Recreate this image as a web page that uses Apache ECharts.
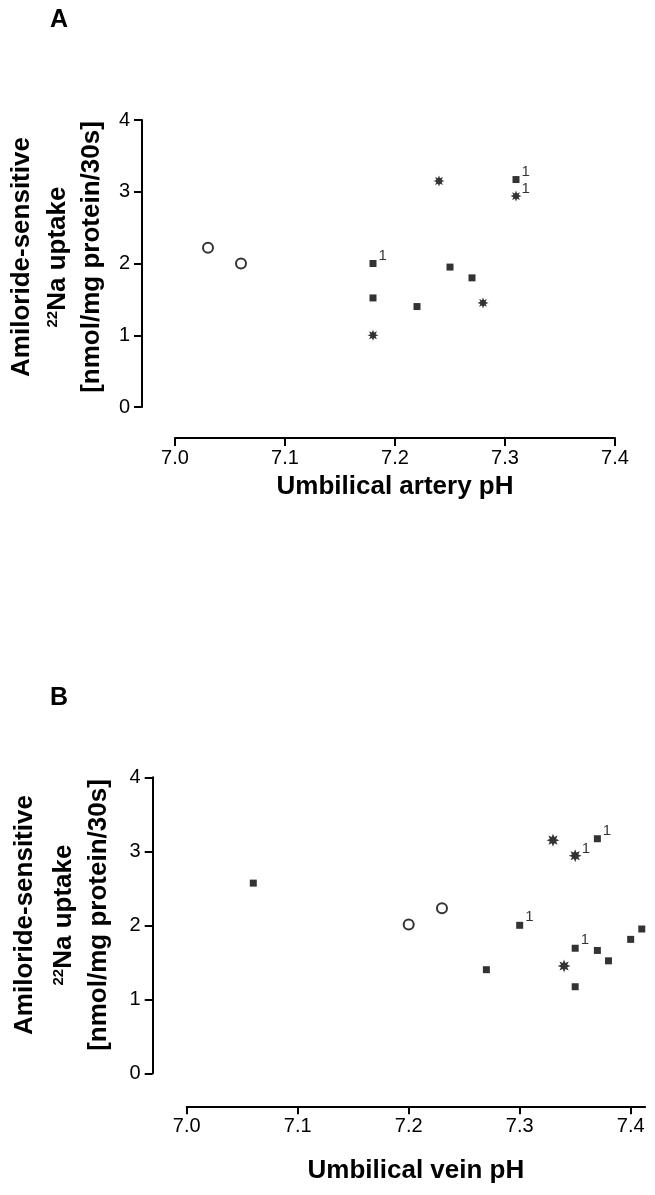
<!DOCTYPE html>
<html>
<head>
<meta charset="utf-8">
<script src="https://cdn.jsdelivr.net/npm/echarts@6/dist/echarts.min.js"></script>
<style>
  html, body { margin: 0; padding: 0; background: #fff; }
  #chart { width: 655px; height: 1195px; }
</style>
</head>
<body>
<div id="chart"></div>
<script>
// ---------- data ----------
// Panel A: umbilical artery pH
const artSquareX = [7.18, 7.18, 7.22, 7.25, 7.27, 7.31];
const artSquareY = [2.00, 1.52, 1.40, 1.95, 1.80, 3.17];
const artSquareNote = ['1', '', '', '', '', '1'];
const artStarX = [7.18, 7.24, 7.28, 7.31];
const artStarY = [1.00, 3.15, 1.45, 2.94];
const artStarNote = ['', '', '', '1'];
const artCircleX = [7.03, 7.06];
const artCircleY = [2.22, 2.00];

// Panel B: umbilical vein pH
const veinSquareX = [7.06, 7.27, 7.30, 7.35, 7.35, 7.37, 7.37, 7.38, 7.40, 7.41];
const veinSquareY = [2.57, 1.40, 2.00, 1.69, 1.17, 3.17, 1.66, 1.52, 1.81, 1.95];
const veinSquareNote = ['', '', '1', '1', '', '1', '', '', '', ''];
const veinStarX = [7.33, 7.35, 7.34];
const veinStarY = [3.15, 2.94, 1.45];
const veinStarNote = ['', '1', ''];
const veinCircleX = [7.20, 7.23];
const veinCircleY = [2.01, 2.23];

// tick values
const xTickValues = [7.0, 7.1, 7.2, 7.3, 7.4];
const yTickValues = [0, 1, 2, 3, 4];

// ---------- helpers ----------
const FONT = "'Liberation Sans', Arial, Helvetica, sans-serif";
function pairs(xs, ys) { return xs.map((x, i) => [x, ys[i]]); }

// asterisk-like 8-point star symbol
function starPath() {
  const n = 8, R = 10, r = 5.2;
  let d = '';
  for (let i = 0; i < n * 2; i++) {
    const rad = (i % 2 === 0) ? R : r;
    const a = Math.PI * i / n - Math.PI / 2;
    const px = (rad * Math.cos(a)).toFixed(3);
    const py = (rad * Math.sin(a)).toFixed(3);
    d += (i === 0 ? 'M' : 'L') + px + ' ' + py + ' ';
  }
  return 'path://' + d + 'Z';
}
const STAR = starPath();

function noteLabel(notes, offset) {
  return {
    show: true,
    formatter: p => notes[p.dataIndex],
    position: 'right',
    offset: offset,
    fontSize: 15,
    color: '#000',
    fontFamily: FONT
  };
}

function makeXAxis(gridIndex, max, offset, name, nameGap) {
  return {
    type: 'value', gridIndex, min: 7.0, max: max, interval: 0.1,
    position: 'bottom', offset: offset,
    name: name, nameLocation: 'middle', nameGap: nameGap,
    nameTextStyle: { fontSize: 26, fontWeight: 'bold', color: '#000', fontFamily: FONT },
    axisLine: { show: true, onZero: false, lineStyle: { color: '#000', width: 2 } },
    axisTick: { show: true, inside: false, length: 8, lineStyle: { color: '#000', width: 2 }, customValues: xTickValues },
    axisLabel: { fontSize: 20, color: '#000', margin: 10, fontFamily: FONT, customValues: xTickValues,
                 formatter: v => Number(v).toFixed(1) },
    splitLine: { show: false }
  };
}
function makeYAxis(gridIndex, offset) {
  return {
    type: 'value', gridIndex, min: 0, max: 4, interval: 1,
    position: 'left', offset: offset,
    axisLine: { show: true, onZero: false, lineStyle: { color: '#000', width: 2 } },
    axisTick: { show: true, inside: false, length: 8, lineStyle: { color: '#000', width: 2 }, customValues: yTickValues },
    axisLabel: { fontSize: 20, color: '#000', margin: 12, fontFamily: FONT, customValues: yTickValues },
    splitLine: { show: false }
  };
}

function squares(xi, data, notes) {
  return { type: 'scatter', xAxisIndex: xi, yAxisIndex: xi, data, symbol: 'rect', symbolSize: 7,
           itemStyle: { color: '#000' }, label: noteLabel(notes, [-3, -8]), silent: true, z: 3 };
}
function stars(xi, data, notes, size) {
  return { type: 'scatter', xAxisIndex: xi, yAxisIndex: xi, data, symbol: STAR, symbolSize: size,
           itemStyle: { color: '#000' }, label: noteLabel(notes, [-5, -7]), silent: true, z: 3 };
}
function circles(xi, data) {
  return { type: 'scatter', xAxisIndex: xi, yAxisIndex: xi, data, symbol: 'circle', symbolSize: 10,
           itemStyle: { color: '#fff', borderColor: '#000', borderWidth: 2 }, silent: true, z: 3 };
}

function yTitle(cx, cy) {
  const base = { fontSize: 26, fontWeight: 'bold', fontFamily: FONT, fill: '#000' };
  return [
    { type: 'text', x: cx[0], y: cy, rotation: Math.PI / 2,
      style: Object.assign({ text: 'Amiloride-sensitive', textAlign: 'center', textVerticalAlign: 'middle' }, base) },
    { type: 'text', x: cx[1], y: cy, rotation: Math.PI / 2,
      style: { text: '{s|22}{n|Na uptake}', textAlign: 'center', textVerticalAlign: 'middle', fill: '#000',
               rich: { s: { fontSize: 15, fontWeight: 'bold', fontFamily: FONT, fill: '#000', verticalAlign: 'top' },
                       n: { fontSize: 26, fontWeight: 'bold', fontFamily: FONT, fill: '#000' } } } },
    { type: 'text', x: cx[2], y: cy, rotation: Math.PI / 2,
      style: Object.assign({ text: '[nmol/mg protein/30s]', textAlign: 'center', textVerticalAlign: 'middle' }, base) }
  ];
}

const chart = echarts.init(document.getElementById('chart'), null, { renderer: 'canvas' });
chart.setOption({
  backgroundColor: '#fff',
  animation: false,
  grid: [
    { left: 175, top: 120, width: 440, height: 287, containLabel: false },
    { left: 186.7, top: 777.3, width: 458.4, height: 296, containLabel: false }
  ],
  xAxis: [
    makeXAxis(0, 7.4, 31, 'Umbilical artery pH', 36),
    makeXAxis(1, 7.413, 33, 'Umbilical vein pH', 52)
  ],
  yAxis: [
    makeYAxis(0, 33),
    makeYAxis(1, 34)
  ],
  series: [
    circles(0, pairs(artCircleX, artCircleY)),
    squares(0, pairs(artSquareX, artSquareY), artSquareNote),
    stars(0, pairs(artStarX, artStarY), artStarNote, 11),
    circles(1, pairs(veinCircleX, veinCircleY)),
    squares(1, pairs(veinSquareX, veinSquareY), veinSquareNote),
    stars(1, pairs(veinStarX, veinStarY), veinStarNote, 13)
  ],
  graphic: [
    { type: 'text', x: 50, y: 8, style: { text: 'A', fontSize: 25, fontWeight: 'bold', fontFamily: FONT, fill: '#000' } },
    { type: 'text', x: 50, y: 686, style: { text: 'B', fontSize: 25, fontWeight: 'bold', fontFamily: FONT, fill: '#000' } }
  ].concat(yTitle([22, 58, 92], 257)).concat(yTitle([25, 64, 99], 915))
});
</script>
</body>
</html>
